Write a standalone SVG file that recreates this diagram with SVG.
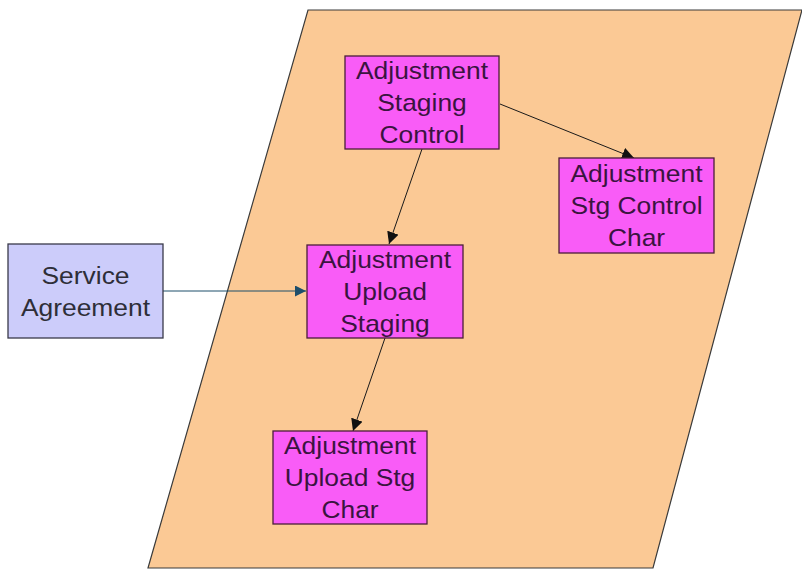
<svg xmlns="http://www.w3.org/2000/svg" width="802" height="570" viewBox="0 0 802 570">
<style>
.ent{fill:#F95CF7;stroke:#4a1e3a;stroke-width:1.3}
.ext{fill:#CCCCFA;stroke:#3a3a4a;stroke-width:1.3}
.t{font-family:"Liberation Sans",Arial,sans-serif;font-size:24px;text-anchor:middle;fill:#3a1440}
.t2{font-family:"Liberation Sans",Arial,sans-serif;font-size:24px;text-anchor:middle;fill:#2e2e38}
.c{fill:none;stroke:#1a1a1a;stroke-width:1}
</style>
<defs>
<marker id="ah" viewBox="0 0 10 10" refX="10" refY="5" markerWidth="12" markerHeight="12" markerUnits="userSpaceOnUse" orient="auto">
<path d="M0,0 L10,5 L0,10 z" fill="#111"/>
</marker>
<marker id="ah2" viewBox="0 0 10 10" refX="10" refY="5" markerWidth="11" markerHeight="11" markerUnits="userSpaceOnUse" orient="auto">
<path d="M0,0 L10,5 L0,10 z" fill="#1d4e6b"/>
</marker>
</defs>
<rect width="802" height="570" fill="#ffffff"/>
<g id="boundary">
<polygon points="308,10 802,10 653,568 148,568" fill="#FBC995" stroke="#3a3a3a" stroke-width="1.2"/>
</g>
<g id="connectors">
<line class="c" x1="163" y1="291" x2="306" y2="291" style="stroke:#1d4e6b" marker-end="url(#ah2)"/>
<line class="c" x1="422" y1="149" x2="389" y2="244" marker-end="url(#ah)"/>
<line class="c" x1="500" y1="104" x2="634" y2="158" marker-end="url(#ah)"/>
<line class="c" x1="385" y1="338" x2="353" y2="431" marker-end="url(#ah)"/>
</g>
<g id="service-agreement">
<rect class="ext" x="8" y="244" width="155" height="94"/>
<text class="t2" transform="matrix(1.1 0 0 1 85.5 0)" x="0" y="284">Service</text>
<text class="t2" transform="matrix(1.1 0 0 1 85.5 0)" x="0" y="316">Agreement</text>
</g>
<g id="adj-staging-control">
<rect class="ent" x="345" y="56" width="154" height="93"/>
<text class="t" transform="matrix(1.1 0 0 1 422 0)" x="0" y="79">Adjustment</text>
<text class="t" transform="matrix(1.1 0 0 1 422 0)" x="0" y="111">Staging</text>
<text class="t" transform="matrix(1.1 0 0 1 422 0)" x="0" y="143">Control</text>
</g>
<g id="adj-stg-control-char">
<rect class="ent" x="559" y="158" width="155" height="95"/>
<text class="t" transform="matrix(1.1 0 0 1 636.5 0)" x="0" y="182">Adjustment</text>
<text class="t" transform="matrix(1.1 0 0 1 636.5 0)" x="0" y="214">Stg Control</text>
<text class="t" transform="matrix(1.1 0 0 1 636.5 0)" x="0" y="246">Char</text>
</g>
<g id="adj-upload-staging">
<rect class="ent" x="307" y="245" width="156" height="93"/>
<text class="t" transform="matrix(1.1 0 0 1 385 0)" x="0" y="268">Adjustment</text>
<text class="t" transform="matrix(1.1 0 0 1 385 0)" x="0" y="300">Upload</text>
<text class="t" transform="matrix(1.1 0 0 1 385 0)" x="0" y="332">Staging</text>
</g>
<g id="adj-upload-stg-char">
<rect class="ent" x="273" y="431" width="154" height="93"/>
<text class="t" transform="matrix(1.1 0 0 1 350 0)" x="0" y="454">Adjustment</text>
<text class="t" transform="matrix(1.1 0 0 1 350 0)" x="0" y="486">Upload Stg</text>
<text class="t" transform="matrix(1.1 0 0 1 350 0)" x="0" y="518">Char</text>
</g>
</svg>
